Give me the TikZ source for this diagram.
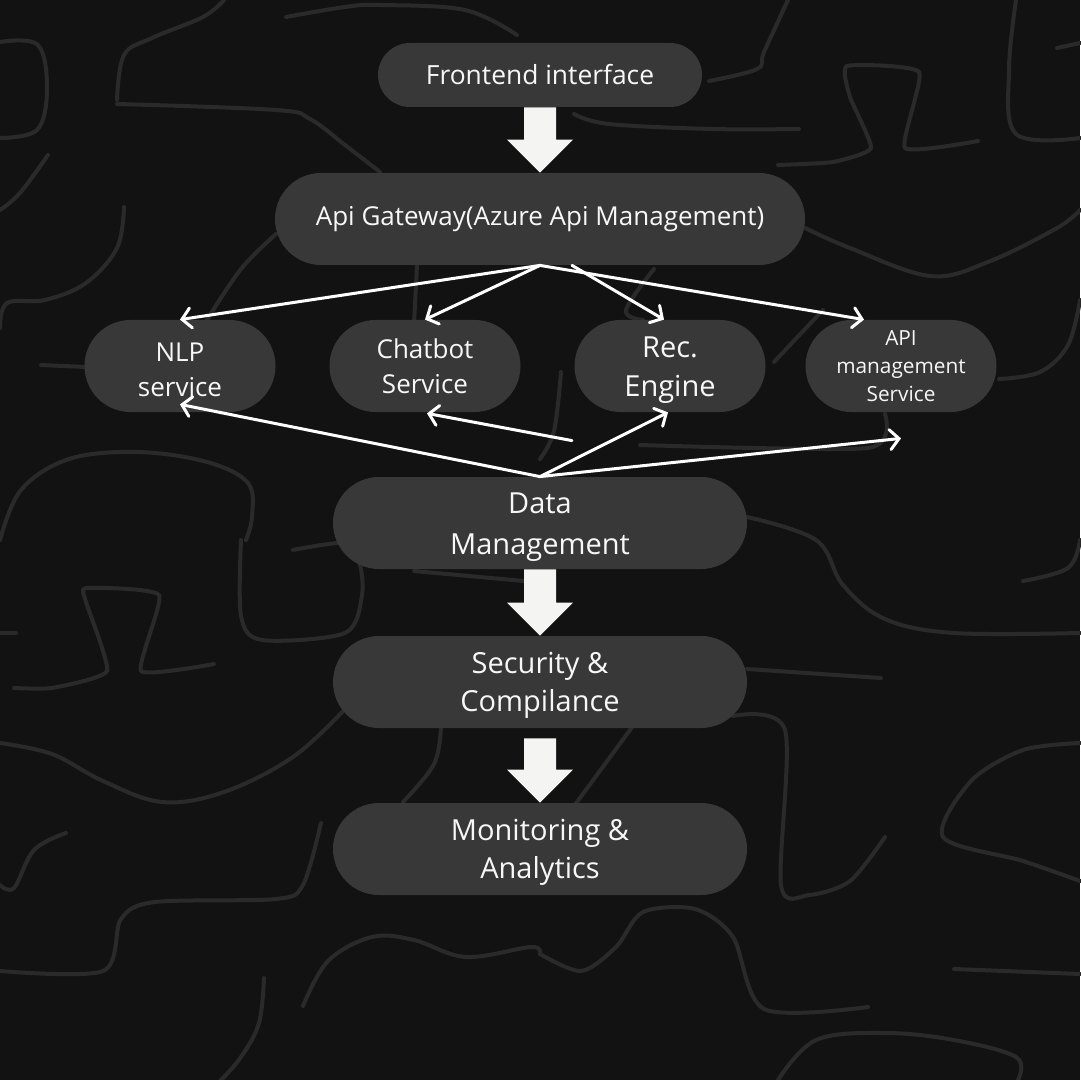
\documentclass[tikz,border=0pt]{standalone}
\usepackage{fontspec}
\setmainfont{Open Sans}
\usetikzlibrary{arrows.meta,calc}
\definecolor{bg}{HTML}{121212}
\definecolor{squig}{HTML}{2A2A2A}
\definecolor{pillc}{HTML}{383838}
\definecolor{txt}{HTML}{F7F7F7}
\definecolor{blk}{HTML}{F4F4F2}
\newcommand{\blockarrow}[2]{%
  \fill[blk] ($(#1)+(-16,0)$) -- ($(#2)+(-16,-33)$) -- ($(#2)+(-33,-33)$) -- (#2)
    -- ($(#2)+(33,-33)$) -- ($(#2)+(16,-33)$) -- ($(#1)+(16,0)$) -- cycle;}
\newcommand{\lift}[1]{\rule{0pt}{#1}}
\begin{document}
\begin{tikzpicture}[x=0.5pt,y=-0.5pt,
  pill/.style={fill=pillc,text=txt,align=center,inner sep=0pt},
  small/.style={pill,minimum width=95.5pt,minimum height=46pt,rounded corners=23pt},
  wide/.style={pill,minimum width=207pt,minimum height=46pt,rounded corners=23pt},
  squiggle/.style={draw=squig,line width=2pt,line cap=round,line join=round},
  thin/.style={draw=white,line width=1.5pt,line cap=round,
    -{Straight Barb[length=4.5pt,width=10pt,line cap=round]}}]
\fill[bg] (0,0) rectangle (1080,1080);
\useasboundingbox (0,0) rectangle (1080,1080);
% background squiggles
\begin{scope}[squiggle]
\draw plot[smooth,tension=0.6] coordinates {(0,42) (38,45) (47,90) (37,130) (0,138)};
\draw plot[smooth,tension=0.6] coordinates {(224,0) (203,17) (152,38) (124,55) (117,100)};
\draw plot[smooth,tension=0.6] coordinates {(117,104) (276,110) (310,119) (345,145) (380,172)};
\draw plot[smooth,tension=0.6] coordinates {(286,17) (345,7) (380,5) (465,10) (517,35)};
\draw plot[smooth,tension=0.6] coordinates {(48,155) (20,193) (0,210)};
\draw plot[smooth,tension=0.6] coordinates {(124,207) (117,248) (86,283) (45,300) (7,303) (0,328)};
\draw (414,324) -- (417,265);
\draw plot[smooth,tension=0.6] coordinates {(207,320) (241,269) (276,234)};
\draw (41,365) -- (86,367);
\draw plot[smooth,tension=0.6] coordinates {(0,540) (21,490) (69,459) (138,452) (207,462) (248,483) (252,517) (246,540)};
\draw plot[smooth,tension=0.6] coordinates {(788,0) (764,52) (757,69) (709,81)};
\draw plot[smooth,tension=0.6] coordinates {(574,114) (609,124) (712,129) (799,129)};
\draw plot[smooth,tension=0.3] coordinates {(778,165) (833,162) (871,148) (850,97) (847,66) (919,72) (905,148) (978,141)};
\draw plot[smooth,tension=0.6] coordinates {(1016,0) (1009,69) (1016,134) (1080,138)};
\draw (1057,48) -- (1080,43);
\draw plot[smooth,tension=0.6] coordinates {(805,228) (850,248) (930,276) (988,262) (1057,228) (1080,210)};
\draw plot[smooth,tension=0.6] coordinates {(654,269) (626,310) (643,320)};
\draw (774,362) -- (823,310);
\draw plot[smooth,tension=0.6] coordinates {(999,379) (1040,372) (1068,345) (1080,300)};
\draw plot[smooth,tension=0.4] coordinates {(885,414) (868,448) (640,445)};
\draw plot[smooth,tension=0.6] coordinates {(561,372) (554,431) (540,459)};
\draw plot[smooth,tension=0.6] coordinates {(747,517) (816,540) (843,585) (885,619) (954,633) (1080,633)};
\draw (0,633) -- (16,633);
\draw plot[smooth,tension=0.3] coordinates {(14,688) (52,688) (107,671) (86,602) (86,588) (159,595) (141,671) (214,664)};
\draw plot[smooth,tension=0.5] coordinates {(293,550) (345,543) (359,561) (362,595) (345,633) (262,640) (241,616) (241,540)};
\draw plot[smooth,tension=0.6] coordinates {(0,743) (52,754) (103,781) (162,802) (224,792) (293,757) (345,709)};
\draw plot[smooth,tension=0.6] coordinates {(66,833) (34,850) (14,888) (0,885)};
\draw plot[smooth,tension=0.5] coordinates {(321,823) (303,885) (276,899) (155,902) (121,919) (103,971) (0,971)};
\draw (414,571) -- (524,581);
\draw plot[smooth,tension=0.6] coordinates {(441,726) (434,764) (403,802)};
\draw plot[smooth,tension=0.6] coordinates {(303,1006) (328,961) (372,937) (414,940) (466,957) (531,947) (540,954)};
\draw plot[smooth,tension=0.6] coordinates {(264,978) (259,1023) (241,1057) (221,1080)};
\draw plot[smooth,tension=0.6] coordinates {(1023,581) (1068,568) (1080,540)};
\draw plot[smooth,tension=0.6] coordinates {(747,669) (881,678)};
\draw plot[smooth,tension=0.5] coordinates {(733,716) (785,730) (781,885) (809,895) (850,881) (885,837)};
\draw plot[smooth,tension=0.5] coordinates {(1080,743) (1023,750) (971,781) (943,837) (1023,861) (1080,881)};
\draw (954,969) -- (1080,974);
\draw plot[smooth,tension=0.5] coordinates {(540,954) (581,971) (616,947) (643,912) (695,909) (733,937) (764,1009) (868,1007)};
\draw plot[smooth,tension=0.6] coordinates {(778,1080) (816,1040) (885,1033) (954,1040) (1016,1057) (1018,1080)};
\draw plot[smooth,tension=0.6] coordinates {(633,726) (574,806)};
\end{scope}
% nodes
\node[pill,minimum width=162pt,minimum height=32pt,rounded corners=16pt,
  font=\fontsize{13.2}{17}\selectfont] (front) at (540,75) {Frontend interface};
\node[pill,minimum width=265pt,minimum height=46pt,rounded corners=23pt,
  font=\fontsize{13}{17}\selectfont] (gw) at (540,219) {Api Gateway(Azure Api Management)};
\node[small,font=\fontsize{13}{17.5}\selectfont] (nlp) at (180,366) {\lift{13.5pt}NLP\\service};
\node[small,font=\fontsize{13}{17.5}\selectfont] (chat) at (425,366) {Chatbot\\Service};
\node[small,font=\fontsize{14.5}{19.5}\selectfont] (rec) at (670,366) {\lift{14.5pt}Rec.\\Engine};
\node[small,font=\fontsize{10.4}{14}\selectfont] (api) at (901,366) {API\\management\\Service};
\node[wide,font=\fontsize{14.5}{20.3}\selectfont] (data) at (540,523) {\lift{14.5pt}Data\\Management};
\node[wide,font=\fontsize{14.5}{19.3}\selectfont] (sec) at (540,682) {\lift{14pt}Security \&\\Compilance};
\node[wide,font=\fontsize{14.5}{19.3}\selectfont] (mon) at (540,849) {\lift{14pt}Monitoring \&\\Analytics};
% block arrows
\blockarrow{front.south}{gw.north}
\blockarrow{data.south}{sec.north}
\blockarrow{$(sec.south)+(0,10)$}{mon.north}
% thin arrows
\coordinate (gwr) at ($(gw.south)+(32,0)$);
\coordinate (cfree) at ($(data.north)+(32,-36)$);
\draw[thin] (gw.south) -- (nlp.north);
\draw[thin] (gw.south) -- (chat.north);
\draw[thin] (gwr) -- ($(rec.north)+(-6,0)$);
\draw[thin] (gw.south) -- ($(api.north)+(-37,0)$);
\draw[thin] (data.north) -- ($(nlp.south)+(0,-8)$);
\draw[thin] (cfree) -- ($(chat.south)+(2,1)$);
\draw[thin] (data.north) -- ($(rec.south)+(-2,0)$);
\draw[thin] (data.north) -- ($(api.south)+(0,26)$);
\end{tikzpicture}
\end{document}
